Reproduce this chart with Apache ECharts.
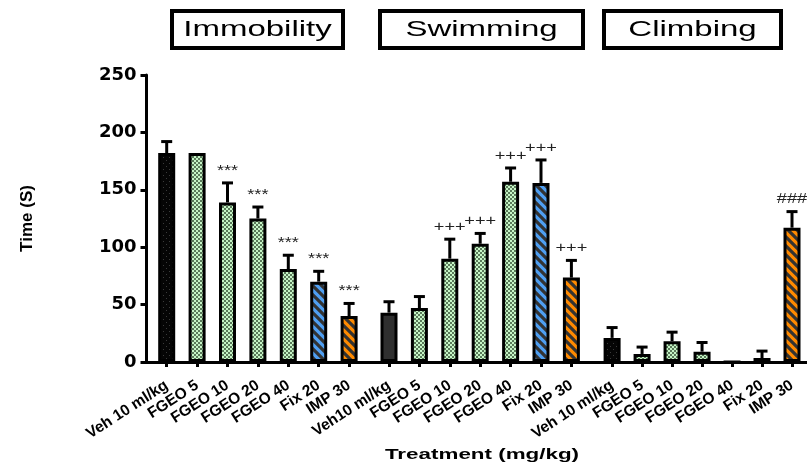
<!DOCTYPE html>
<html>
<head>
<meta charset="utf-8">
<script src="https://cdn.jsdelivr.net/npm/echarts@6/dist/echarts.min.js"></script>
<style>
html,body{margin:0;padding:0;background:#fff;}
#chart{width:807px;height:466px;}
</style>
</head>
<body>
<div id="chart"></div>
<script>
// ---- data ----
const immobilityCategories = ['Veh 10 ml/kg','FGEO 5','FGEO 10','FGEO 20','FGEO 40','Fix 20','IMP 30'];
const swimmingCategories   = ['Veh10 ml/kg','FGEO 5','FGEO 10','FGEO 20','FGEO 40','Fix 20','IMP 30'];
const climbingCategories   = ['Veh 10 ml/kg','FGEO 5','FGEO 10','FGEO 20','FGEO 40','Fix 20','IMP 30'];

const immobility    = [182, 182, 139, 125, 81, 70, 40];
const immobilityErr = [10, 0, 17, 10, 12, 9, 11];
const immobilityMarks = ['', '', '***', '***', '***', '***', '***'];

const swimming    = [43, 47, 90, 103, 157, 156, 73.5];
const swimmingErr = [9.5, 10, 17, 9, 12, 20, 15];
const swimmingMarks = ['', '', '+++', '+++', '+++', '+++', '+++'];

const climbing    = [21, 7, 18, 9, 0, 3.5, 117];
const climbingErr = [9, 6, 8, 8, 0, 6, 14];
const climbingMarks = ['', '', '', '', '', '', '###'];

const panelTitles = ['Immobility', 'Swimming', 'Climbing'];

// fill kinds per bar
const immobilityKinds = ['vehDots','fgeo','fgeo','fgeo','fgeo','fix','imp'];
const swimmingKinds   = ['vehSolid','fgeo','fgeo','fgeo','fgeo','fix','imp'];
const climbingKinds   = ['vehDots','fgeo','fgeo','fgeo','fgeo','fix','imp'];

// ---- patterns ----
function makeCanvas(w, h, draw) {
  const c = document.createElement('canvas');
  c.width = w; c.height = h;
  draw(c.getContext('2d'), w, h);
  return c;
}
function stripes(bg) {
  return makeCanvas(9, 9, (ctx, w, h) => {
    ctx.fillStyle = bg; ctx.fillRect(0, 0, w, h);
    ctx.strokeStyle = '#333'; ctx.lineWidth = 3.2;
    ctx.beginPath();
    for (let s = -1; s <= 1; s++) {
      ctx.moveTo(s * w - 3, -3); ctx.lineTo(s * w + w + 3, h + 3);
    }
    ctx.stroke();
  });
}
const fills = {
  vehDots: { image: makeCanvas(6, 6, (ctx) => {
      ctx.fillStyle = '#050505'; ctx.fillRect(0, 0, 6, 6);
      ctx.fillStyle = '#3a3a3a'; ctx.fillRect(1, 1, 1, 1); ctx.fillRect(4, 4, 1, 1);
    }), repeat: 'repeat' },
  vehSolid: '#2f2f2f',
  fgeo: { image: makeCanvas(4, 4, (ctx) => {
      ctx.fillStyle = '#c6f5c6'; ctx.fillRect(0, 0, 4, 4);
      ctx.fillStyle = '#5a7a5a'; ctx.fillRect(0, 0, 2, 2); ctx.fillRect(2, 2, 2, 2);
    }), repeat: 'repeat' },
  fix: { image: stripes('#4f9ff2'), repeat: 'repeat' },
  imp: { image: stripes('#ff8a00'), repeat: 'repeat' }
};

// ---- layout ----
const band = 30.4;
const gridLefts = [151.5, 373.8, 597.1];
const gridTop = 75, gridHeight = 287;

const groups = [
  { cats: immobilityCategories, vals: immobility, err: immobilityErr, marks: immobilityMarks, kinds: immobilityKinds },
  { cats: swimmingCategories, vals: swimming, err: swimmingErr, marks: swimmingMarks, kinds: swimmingKinds },
  { cats: climbingCategories, vals: climbing, err: climbingErr, marks: climbingMarks, kinds: climbingKinds }
];

const grids = [], xAxes = [], yAxes = [], series = [];
groups.forEach((g, i) => {
  grids.push({ left: gridLefts[i], top: gridTop, width: band * 7, height: gridHeight, containLabel: false });
  xAxes.push({
    type: 'category', gridIndex: i, data: g.cats,
    axisLine: { show: false },
    axisTick: { show: true, alignWithLabel: true, length: 5, lineStyle: { color: '#000', width: 3 } },
    axisLabel: { rotate: 33, margin: 22, color: '#000', fontFamily: 'Liberation Sans', fontWeight: 'bold', fontSize: 15.5, interval: 0 }
  });
  yAxes.push({
    type: 'value', gridIndex: i, min: 0, max: 250, interval: 50,
    show: i === 0,
    offset: 5,
    name: i === 0 ? 'Time (S)' : '',
    nameLocation: 'middle', nameGap: 111,
    nameTextStyle: { fontFamily: 'Liberation Sans', fontWeight: 'bold', fontSize: 17, color: '#000' },
    splitLine: { show: false },
    axisLine: { show: true, lineStyle: { color: '#000', width: 3 } },
    axisTick: { show: true, length: 6, lineStyle: { color: '#000', width: 3 } },
    axisLabel: { margin: 10, color: '#000', fontFamily: 'DejaVu Sans', fontWeight: 'bold', fontSize: 18 }
  });
  series.push({
    type: 'bar', xAxisIndex: i, yAxisIndex: i, barWidth: 17, z: 3,
    data: g.vals.map((v, k) => ({
      value: v,
      itemStyle: { color: fills[g.kinds[k]], borderColor: '#000', borderWidth: 3 }
    }))
  });
  series.push({
    type: 'custom', xAxisIndex: i, yAxisIndex: i, z: 2,
    data: g.vals.map((v, k) => [k, v, g.err[k]]),
    renderItem: function (params, api) {
      const k = api.value(0), v = api.value(1), e = api.value(2);
      const mark = g.marks[k];
      const base = api.coord([k, v]);
      const top = api.coord([k, v + e]);
      const children = [];
      if (e > 0) {
        children.push({ type: 'line', shape: { x1: base[0], y1: base[1], x2: top[0], y2: top[1] }, style: { stroke: '#000', lineWidth: 3 } });
        children.push({ type: 'line', shape: { x1: top[0] - 5.5, y1: top[1], x2: top[0] + 5.5, y2: top[1] }, style: { stroke: '#000', lineWidth: 3 } });
      }
      if (mark) {
        children.push({ type: 'text', x: top[0], y: top[1] - 12, scaleX: 1.3,
          style: { text: mark, align: 'center', verticalAlign: 'middle', textAlign: 'center', textVerticalAlign: 'middle',
                   font: '14px Liberation Sans', fill: '#222' } });
      }
      return { type: 'group', children: children };
    }
  });
});

// full-width x axis line
grids.push({ left: 145, top: gridTop, right: 0, height: gridHeight });
xAxes.push({ type: 'value', gridIndex: 3, min: 0, max: 1, axisLine: { show: true, onZero: false, lineStyle: { color: '#000', width: 3 } },
  axisTick: { show: false }, axisLabel: { show: false }, splitLine: { show: false }, z: 10 });
yAxes.push({ type: 'value', gridIndex: 3, min: 0, max: 1, show: false });

// title boxes
const boxes = [[172, 343], [380, 583], [604, 781]];
const graphic = [];
boxes.forEach((b, i) => {
  graphic.push({ type: 'rect', shape: { x: b[0], y: 11, width: b[1] - b[0], height: 37 }, style: { fill: '#fff', stroke: '#000', lineWidth: 4 }, z: 100 });
  graphic.push({ type: 'text', x: (b[0] + b[1]) / 2, y: 30, scaleX: 1.5, z: 101,
    style: { text: panelTitles[i], font: '22px Liberation Sans', fill: '#000', align: 'center', verticalAlign: 'middle', textAlign: 'center', textVerticalAlign: 'middle' } });
});
graphic.push({ type: 'text', x: 482, y: 455, scaleX: 1.6, z: 101,
  style: { text: 'Treatment (mg/kg)', font: 'bold 14px Liberation Sans', fill: '#000', align: 'center', verticalAlign: 'middle', textAlign: 'center', textVerticalAlign: 'middle' } });

const chart = echarts.init(document.getElementById('chart'), null, { renderer: 'canvas' });
chart.setOption({
  animation: false,
  backgroundColor: '#fff',
  grid: grids, xAxis: xAxes, yAxis: yAxes, series: series, graphic: graphic
});
</script>
</body>
</html>
